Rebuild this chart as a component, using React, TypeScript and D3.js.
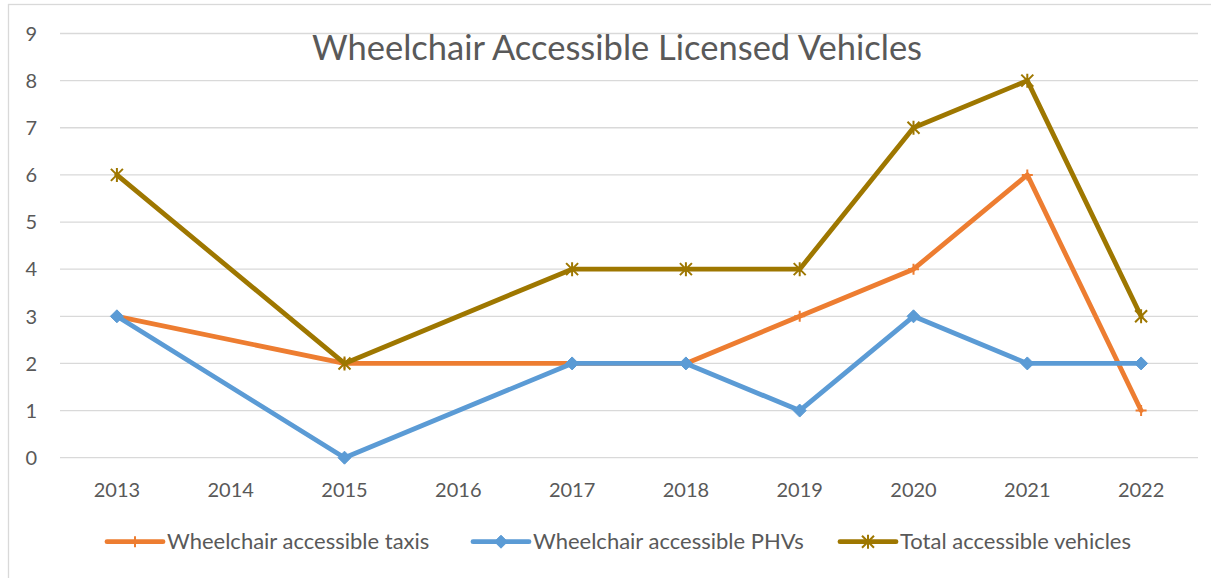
import React from "react";
import * as d3 from "d3";

const title = "Wheelchair Accessible Licensed Vehicles";
const years = ["2013", "2014", "2015", "2016", "2017", "2018", "2019", "2020", "2021", "2022"];
const taxis: (number | null)[] = [3, null, 2, null, 2, 2, 3, 4, 6, 1];
const phvs: (number | null)[] = [3, null, 0, null, 2, 2, 1, 3, 2, 2];
const total: (number | null)[] = [6, null, 2, null, 4, 4, 4, 7, 8, 3];
const yTicks = [0, 1, 2, 3, 4, 5, 6, 7, 8, 9];
const seriesNames = ["Wheelchair accessible taxis", "Wheelchair accessible PHVs", "Total accessible vehicles"];

const W = 1211;
const H = 578;
const plot = { left: 60, right: 1198, top: 33.5, bottom: 457.7 };
const colors = ["#ED7D31", "#5B9BD5", "#9E7700"];
const markers = ["plus", "diamond", "star"];
const legendX = [107, 473, 840];
const legendY = 541.7;
const FONT = "Lato, 'Open Sans', sans-serif";
const TXT = "#595959";

function Marker({ type, x, y, color }: { type: string; x: number; y: number; color: string }) {
  if (type === "plus") {
    return (
      <path d={`M${x - 5.5},${y}H${x + 5.5}M${x},${y - 5.5}V${y + 5.5}`} stroke={color} strokeWidth={2} fill="none" />
    );
  }
  if (type === "diamond") {
    const r = 6.5;
    return <path d={`M${x},${y - r}L${x + r},${y}L${x},${y + r}L${x - r},${y}Z`} fill={color} stroke={color} strokeWidth={1} />;
  }
  const r = 6;
  return (
    <path
      d={`M${x - r},${y - r}L${x + r},${y + r}M${x + r},${y - r}L${x - r},${y + r}M${x},${y - r - 1}V${y + r + 1}`}
      stroke={color}
      strokeWidth={2}
      fill="none"
    />
  );
}

export default function App() {
  const x = d3.scaleBand<string>().domain(years).range([plot.left, plot.right]);
  const y = d3.scaleLinear().domain([0, 9]).range([plot.bottom, plot.top]);
  const cx = (c: string) => (x(c) as number) + x.bandwidth() / 2;
  const allSeries = [taxis, phvs, total];

  const line = d3
    .line<{ c: string; v: number }>()
    .x((d) => cx(d.c))
    .y((d) => y(d.v));

  return (
    <svg width={W} height={H} style={{ position: "absolute", left: 0, top: 0, background: "#fff" }}>
      <rect x={8.5} y={4.5} width={1300} height={700} fill="#fff" stroke="#D9D9D9" strokeWidth={1.3} />
      {yTicks.map((t) => (
        <g key={t}>
          <line x1={plot.left} x2={plot.right} y1={y(t)} y2={y(t)} stroke="#D9D9D9" strokeWidth={1.3} />
          <text x={37} y={y(t)} dy="0.36em" textAnchor="end" fontFamily={FONT} fontSize={20} fill={TXT}>
            {t}
          </text>
        </g>
      ))}
      {years.map((c) => (
        <text key={c} x={cx(c)} y={497} textAnchor="middle" fontFamily={FONT} fontSize={20} fill={TXT}>
          {c}
        </text>
      ))}
      <text x={617} y={60} textAnchor="middle" fontFamily={FONT} fontSize={34.5} fill={TXT}>
        {title}
      </text>
      {allSeries.map((s, i) => {
        const pts = years
          .map((c, j) => ({ c, v: s[j] }))
          .filter((d) => d.v !== null) as { c: string; v: number }[];
        return (
          <g key={i}>
            <path d={line(pts) || ""} fill="none" stroke={colors[i]} strokeWidth={4.8} strokeLinejoin="round" strokeLinecap="round" />
            {pts.map((p) => (
              <Marker key={p.c} type={markers[i]} x={cx(p.c)} y={y(p.v)} color={colors[i]} />
            ))}
          </g>
        );
      })}
      {seriesNames.map((n, i) => (
        <g key={n}>
          <line x1={legendX[i]} x2={legendX[i] + 56} y1={legendY} y2={legendY} stroke={colors[i]} strokeWidth={4.8} strokeLinecap="round" />
          <Marker type={markers[i]} x={legendX[i] + 28} y={legendY} color={colors[i]} />
          <text x={legendX[i] + 60} y={549} fontFamily={FONT} fontSize={22} fill={TXT}>
            {n}
          </text>
        </g>
      ))}
    </svg>
  );
}
